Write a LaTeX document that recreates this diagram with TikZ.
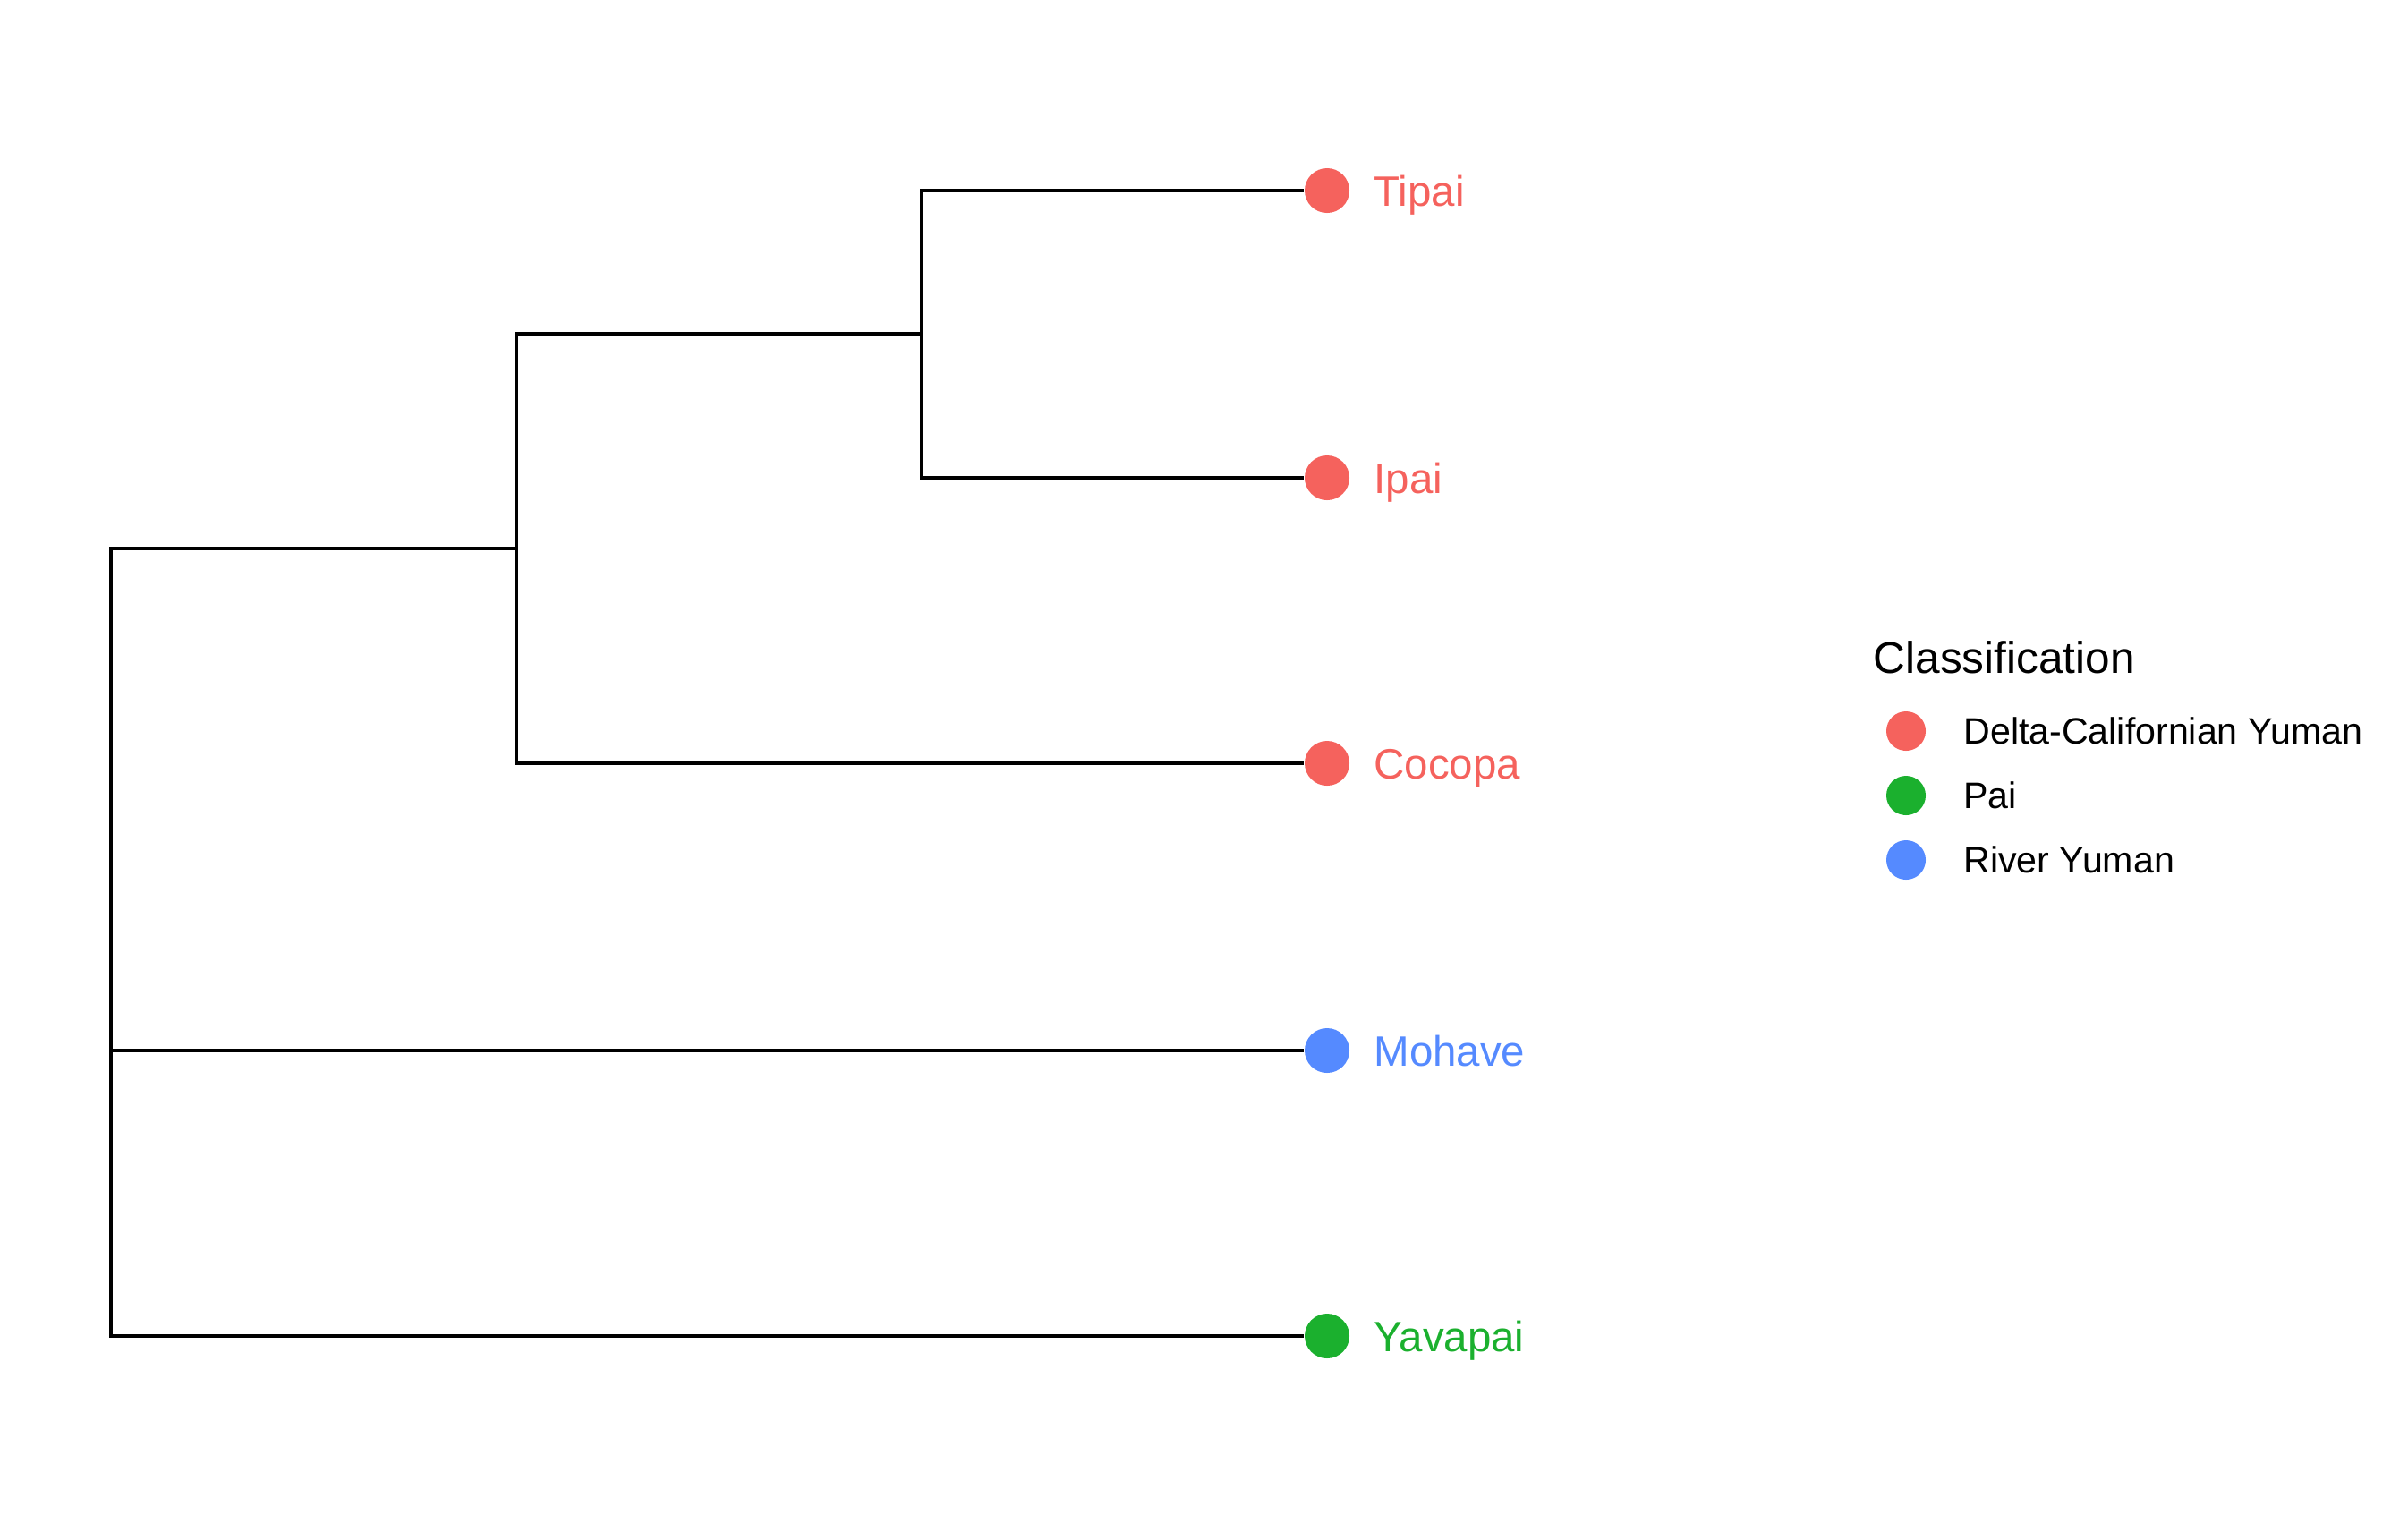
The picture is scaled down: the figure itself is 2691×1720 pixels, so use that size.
\documentclass[tikz,border=0pt]{standalone}
\usepackage{fontspec}
\setmainfont{Liberation Sans}
\usetikzlibrary{positioning}

\definecolor{deltared}{RGB}{245,98,93}
\definecolor{paigreen}{RGB}{27,176,46}
\definecolor{riverblue}{RGB}{85,138,255}

\begin{document}
\begin{tikzpicture}[x=0.01cm, y=-0.01cm]


\tikzstyle{edge_style} = [draw=black, line width=1pt]
\tikzstyle{tip_style} = [circle, inner sep=0pt, minimum size=0.5cm]
\tikzstyle{tip_label} = [anchor=west, inner sep=0pt, text height=0.34cm, text depth=0pt, font=\fontsize{13.5}{16}\selectfont]
\tikzstyle{key_style} = [circle, inner sep=0pt, minimum size=0.44cm]
\tikzstyle{key_label} = [anchor=west, inner sep=0pt, text height=0.294cm, text depth=0pt, font=\fontsize{11.7}{14}\selectfont]

\useasboundingbox (0,0) rectangle (2691,1720);

% internal nodes of the tree
\coordinate (root) at (124, 1091);
\coordinate (n1) at (577, 613);
\coordinate (n2) at (1030, 373);

% tips
\node[tip_style, fill=deltared] (tipai) at (1483, 213) {};
\node[tip_style, fill=deltared] (ipai) at (1483, 534) {};
\node[tip_style, fill=deltared] (cocopa) at (1483, 853) {};
\node[tip_style, fill=riverblue] (mohave) at (1483, 1174) {};
\node[tip_style, fill=paigreen] (yavapai) at (1483, 1493) {};

\node[tip_label, text=deltared, right=0.26cm of tipai] (l_tipai) {Tipai};
\node[tip_label, text=deltared, right=0.26cm of ipai] (l_ipai) {Ipai};
\node[tip_label, text=deltared, right=0.26cm of cocopa] (l_cocopa) {Cocopa};
\node[tip_label, text=riverblue, right=0.26cm of mohave] (l_mohave) {Mohave};
\node[tip_label, text=paigreen, right=0.26cm of yavapai] (l_yavapai) {Yavapai};

\draw[edge_style]  (root) |- (n1);
\draw[edge_style]  (root) |- (mohave);
\draw[edge_style]  (root) |- (yavapai);
\draw[edge_style]  (n1) |- (n2);
\draw[edge_style]  (n1) |- (cocopa);
\draw[edge_style]  (n2) |- (tipai);
\draw[edge_style]  (n2) |- (ipai);

% legend
\node[anchor=base west, inner sep=0pt, font=\fontsize{14.1}{17}\selectfont] (key_title) at (2093, 752) {Classification};

\node[key_style, fill=deltared] (k1) at (2130, 817) {};
\node[key_style, fill=paigreen] (k2) at (2130, 889) {};
\node[key_style, fill=riverblue] (k3) at (2130, 961) {};

\node[key_label, right=0.41cm of k1] (kl1) {Delta-Californian Yuman};
\node[key_label, right=0.41cm of k2] (kl2) {Pai};
\node[key_label, right=0.41cm of k3] (kl3) {River Yuman};



\end{tikzpicture}
\end{document}
